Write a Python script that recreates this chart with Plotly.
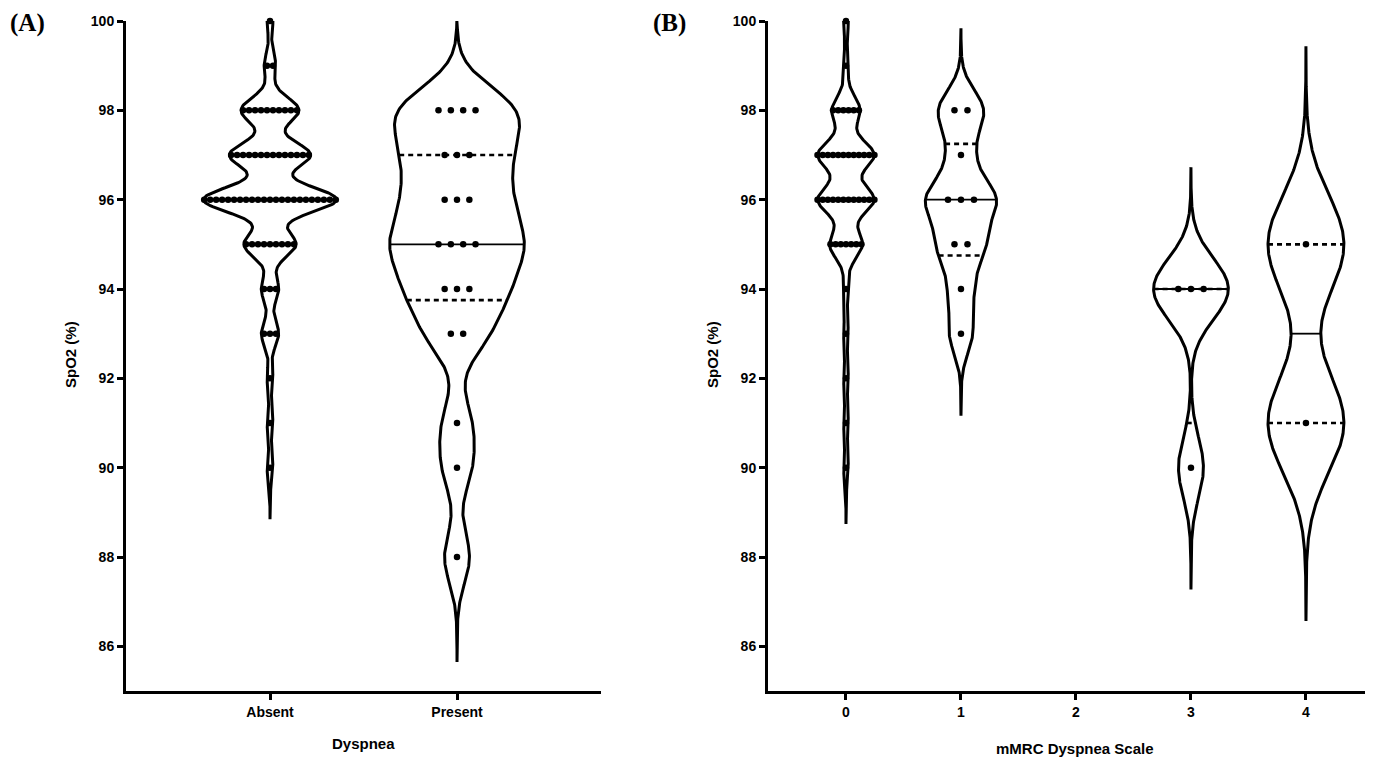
import numpy as np
import plotly.graph_objects as go

# ---------------- data ----------------
spo2_levels = [100, 99, 98, 97, 96, 95, 94, 93, 92, 91, 90, 88]

# Panel A: Dyspnea
dyspnea_categories = ["Absent", "Present"]
absent_counts = [1, 2, 10, 14, 23, 9, 3, 3, 1, 1, 1, 0]
present_counts = [0, 0, 4, 3, 3, 4, 3, 2, 0, 1, 1, 1]

# Panel B: mMRC dyspnea scale
mmrc_categories = ["0", "1", "2", "3", "4"]
mmrc0_counts = [1, 1, 6, 12, 12, 7, 1, 1, 1, 1, 1, 0]
mmrc1_counts = [0, 0, 2, 1, 3, 2, 1, 1, 0, 0, 0, 0]
mmrc2_counts = [0, 0, 0, 0, 0, 0, 0, 0, 0, 0, 0, 0]
mmrc3_counts = [0, 0, 0, 0, 0, 0, 3, 0, 0, 0, 1, 0]
mmrc4_counts = [0, 0, 0, 0, 0, 1, 0, 0, 0, 1, 0, 0]

y_ticks = [86, 88, 90, 92, 94, 96, 98, 100]

# ---------------- styles ----------------
Y_MIN, Y_MAX = 85, 100
FONT = "Liberation Sans, Arial, sans-serif"
SERIF = "Liberation Serif, Times New Roman, serif"
# (max half width in axis units, dot spacing in axis units)
style_A = {"Absent": (0.355, 0.032), "Present": (0.36, 0.066)}
style_B = {"0": (0.245, 0.045), "1": (0.31, 0.113), "2": (0.3, 0.1),
           "3": (0.325, 0.11), "4": (0.33, 0.11)}


def expand(counts):
    return np.repeat(np.array(spo2_levels, dtype=float), counts)


def kde(vals):
    n = len(vals)
    sd = vals.std(ddof=1)
    q1, q3 = np.percentile(vals, [25, 75], method="weibull")
    iqr = q3 - q1
    s = min(sd, iqr / 1.34) if iqr > 0 else sd
    bw = 0.45 * s * n ** -0.2
    lo = max(vals.min() - 4 * bw, Y_MIN)
    hi = min(vals.max() + 4 * bw, Y_MAX)
    ys = np.linspace(lo, hi, 500)

    def dens(y):
        y = np.atleast_1d(y)
        return np.exp(-0.5 * ((y[:, None] - vals[None, :]) / bw) ** 2).sum(1)

    d = dens(ys)
    dmax = d.max()
    return ys, d / dmax, (lambda y: dens(y) / dmax)


fig = go.Figure()


def add_violin(xc, counts, half_w, spacing, xa, ya):
    vals = expand(counts)
    if len(vals) < 2:
        return
    ys, w, fn = kde(vals)
    xr = xc + half_w * w
    xl = xc - half_w * w
    px = np.concatenate([xr, xl[::-1], [xr[0]]])
    py = np.concatenate([ys, ys[::-1], [ys[0]]])
    fig.add_trace(go.Scatter(x=px, y=py, mode="lines", xaxis=xa, yaxis=ya,
                             line=dict(color="black", width=3),
                             fill="toself", fillcolor="white",
                             cliponaxis=False, hoverinfo="skip"))
    q1, med, q3 = np.percentile(vals, [25, 50, 75], method="weibull")
    for q, dash, lw in [(q1, "5px,4px", 2.6), (q3, "5px,4px", 2.6), (med, "solid", 1.8)]:
        hw = half_w * fn(q)[0]
        fig.add_trace(go.Scatter(x=[xc - hw, xc + hw], y=[q, q], mode="lines",
                                 xaxis=xa, yaxis=ya,
                                 line=dict(color="black", width=lw, dash=dash),
                                 cliponaxis=False, hoverinfo="skip"))
    dx, dy = [], []
    for lvl, c in zip(spo2_levels, counts):
        if c == 0:
            continue
        offs = (np.arange(c) - (c - 1) / 2) * spacing
        dx.extend(xc + offs)
        dy.extend([lvl] * c)
    fig.add_trace(go.Scatter(x=dx, y=dy, mode="markers", xaxis=xa, yaxis=ya,
                             marker=dict(color="black", size=6.5, line=dict(width=0)),
                             cliponaxis=False, hoverinfo="skip"))


groupsA = [absent_counts, present_counts]
for i, (cat, cnt) in enumerate(zip(dyspnea_categories, groupsA)):
    hw, sp = style_A[cat]
    add_violin(i, cnt, hw, sp, "x", "y")

groupsB = [mmrc0_counts, mmrc1_counts, mmrc2_counts, mmrc3_counts, mmrc4_counts]
for i, (cat, cnt) in enumerate(zip(mmrc_categories, groupsB)):
    hw, sp = style_B[cat]
    add_violin(i, cnt, hw, sp, "x2", "y2")

axis_common = dict(showline=True, linecolor="black", linewidth=3, ticks="outside",
                   ticklen=6, tickwidth=2.5, tickcolor="black", showgrid=False,
                   zeroline=False, mirror=False, automargin=False)
xtick_font = dict(family=FONT, size=14, color="black", weight="bold")
ytick_font = dict(family=FONT, size=14, color="black", weight="bold")

W, H = 1373, 758
ydom = [1 - 683 / H, 1 - 13 / H]

fig.update_layout(
    width=W, height=H,
    margin=dict(l=0, r=0, t=0, b=0, autoexpand=False),
    paper_bgcolor="white", plot_bgcolor="white",
    showlegend=False,
    xaxis=dict(domain=[118 / W, 593 / W], range=[-0.77, 1.77], anchor="y",
               tickvals=[0, 1], ticktext=dyspnea_categories, tickfont=xtick_font,
               **axis_common),
    yaxis=dict(domain=ydom, range=[Y_MIN, Y_MAX], anchor="x",
               tickvals=y_ticks, tickfont=ytick_font, **axis_common),
    xaxis2=dict(domain=[760 / W, 1365 / W], range=[-0.678, 4.583], anchor="y2",
                tickvals=[0, 1, 2, 3, 4], ticktext=mmrc_categories,
                tickfont=xtick_font, **axis_common),
    yaxis2=dict(domain=ydom, range=[Y_MIN, Y_MAX], anchor="x2",
                tickvals=y_ticks, tickfont=ytick_font, **axis_common),
)

ann_font = dict(family=FONT, size=15, color="black", weight="bold")
lab_font = dict(family=SERIF, size=25, color="black", weight="bold")
annotations = [
    dict(text="SpO2 (%)", x=62 / W, y=1 - 347 / H, textangle=-90, font=ann_font),
    dict(text="SpO2 (%)", x=704 / W, y=1 - 347 / H, textangle=-90, font=ann_font),
    dict(text="Dyspnea", x=355 / W, y=1 - 735 / H, font=ann_font),
    dict(text="mMRC Dyspnea Scale", x=1067 / W, y=1 - 740 / H, font=ann_font),
    dict(text="(A)", x=19 / W, y=1 - 15 / H, font=lab_font),
    dict(text="(B)", x=661 / W, y=1 - 15 / H, font=lab_font),
]
for a in annotations:
    fig.add_annotation(xref="paper", yref="paper", showarrow=False,
                       xanchor="center", yanchor="middle", **a)

fig.write_html("out.html")
